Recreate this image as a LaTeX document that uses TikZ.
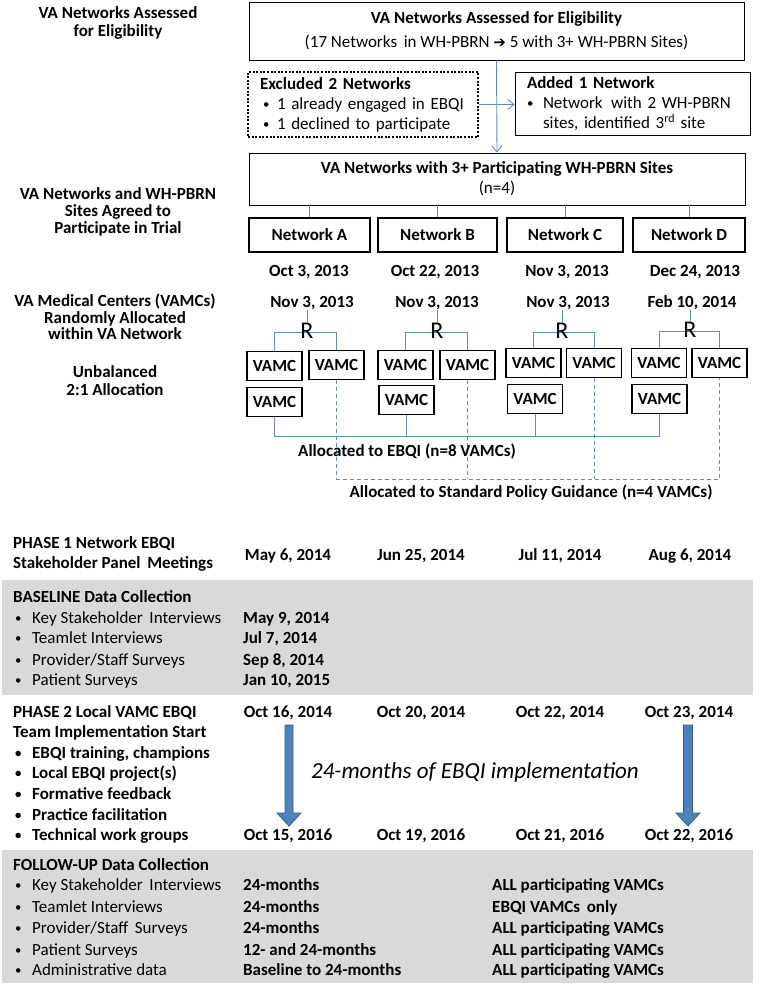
\documentclass[tikz,border=0pt]{standalone}
\usepackage{fontspec}
\setmainfont{Carlito}
\newfontfamily\djv{DejaVu Sans}
\usetikzlibrary{arrows.meta}
\definecolor{lineblue}{HTML}{5B8BC4}
\definecolor{bandgray}{HTML}{D9D9D9}
\definecolor{arrowfill}{HTML}{4F81BD}
\definecolor{arrowedge}{HTML}{385D8A}
\newcommand{\myfs}[2]{\fontsize{#1}{#2}\selectfont}
\newcommand{\smbul}{\raisebox{0.5pt}{\scalebox{0.75}{\textbullet}}}
\newcommand{\bul}[3]{\hspace*{#1}\makebox[#2][l]{\smbul}#3}
\begin{document}
\begin{tikzpicture}[x=1pt,y=-1pt,
  lbl/.style={font=\bfseries\myfs{17}{17.5}, align=center, inner sep=0},
  bx/.style={draw, line width=0.8pt, inner sep=0, align=center},
  dotbox/.style={draw, line width=2pt, dash pattern=on 2pt off 1.6pt, align=left, inner ysep=0},
  netbox/.style={draw, line width=2.4pt, font=\bfseries\myfs{17}{18}, minimum height=34pt, inner sep=0},
  vamc/.style={draw, line width=1.6pt, font=\bfseries\myfs{17}{18}, minimum width=55pt, minimum height=29pt, inner sep=0},
  conn/.style={draw=lineblue, line width=0.9pt},
  stdconn/.style={conn, dash pattern=on 4pt off 3pt},
  date/.style={font=\bfseries\myfs{17}{18}, inner sep=0},
  rr/.style={font=\myfs{24}{24}, inner sep=0},
  it/.style={anchor=base west, inner sep=0, font=\myfs{17}{18}},
  itb/.style={anchor=base west, inner sep=0, font=\bfseries\myfs{17}{18}},
  ldate/.style={anchor=base, inner sep=0, font=\bfseries\myfs{17}{18}},
  bigarrow/.style={fill=arrowfill, draw=arrowedge, line width=0.8pt}
]
\useasboundingbox (0,0) rectangle (760,992);
\fill[white] (0,0) rectangle (760,992);
\fill[bandgray] (2,580) rectangle (753,695);
\fill[bandgray] (2,850) rectangle (753,983);

% ---------- left labels ----------
\node[lbl, font=\bfseries\myfs{17}{18}] (l1) at (118,23) {VA Networks Assessed\\for Eligibility};
\node[lbl, font=\bfseries\myfs{17}{17}] (l2) at (118,212) {VA Networks and WH-PBRN\\Sites Agreed to\\Participate in Trial};
\node[lbl, font=\bfseries\myfs{17}{16.5}] (l3) at (115,317) {VA Medical Centers (VAMCs)\\Randomly Allocated\\within VA Network};
\node[lbl, font=\bfseries\myfs{17}{18}] (l4) at (115,381) {Unbalanced\\2:1 Allocation};

% ---------- top boxes ----------
\node[bx, minimum width=495pt, minimum height=58pt, font=\myfs{17}{24}] (top) at (496.5,31)
  {\textbf{VA Networks Assessed for Eligibility}\\(17 Networks\, in WH-PBRN {\djv\myfs{15}{24}➔} 5 with 3+ WH-PBRN Sites)};
\node[dotbox, text width=206pt, inner xsep=12pt, minimum height=65pt, font=\myfs{17}{20}] (excl) at (363,104.5)
  {\textbf{Excluded 2 Networks}\\\bul{3pt}{14pt}{1 already engaged in EBQI}\\\bul{3pt}{14pt}{1 declined to participate}};
\node[draw, line width=0.8pt, align=left, text width=211pt, inner xsep=12pt, inner ysep=0, minimum height=63pt, font=\myfs{17}{20}] (added) at (632.5,103.5)
  {\textbf{Added 1 Network}\\\bul{0pt}{16pt}{Network\, with 2 WH-PBRN}\\\hspace*{16pt}sites, identified 3\textsuperscript{rd} site};
\draw[conn, -{Straight Barb[length=6pt,width=10pt]}] (excl.east) -- (excl.east -| added.west);

\node[bx, minimum width=496pt, minimum height=52pt, font=\myfs{17}{20}] (box2) at (497,179)
  {\textbf{VA Networks with 3+ Participating WH-PBRN Sites}\\(n=4)};
\draw[conn, -{Straight Barb[length=6pt,width=10pt]}] (top.south) -- (box2.north);

% ---------- networks ----------
\node[netbox, minimum width=121pt] (netA) at (309.5,235) {Network A};
\node[netbox, minimum width=119pt] (netB) at (437.5,235) {Network B};
\node[netbox, minimum width=116pt] (netC) at (565,235) {Network C};
\node[netbox, minimum width=112pt] (netD) at (689,235) {Network D};
\foreach \n in {netA,netB,netC,netD}
  \draw[conn] (box2.south -| \n.north) -- (\n.north);

\node[date] (dA) at (309,272) {Oct 3, 2013};
\node[date] (dB) at (435,272) {Oct 22, 2013};
\node[date] (dC) at (567,272) {Nov 3, 2013};
\node[date] (dD) at (695,272) {Dec 24, 2013};

\node[date] (rA) at (312,303) {Nov 3, 2013};
\node[date] (rB) at (437,303) {Nov 3, 2013};
\node[date] (rC) at (568,303) {Nov 3, 2013};
\node[date] (rD) at (692,303) {Feb 10, 2014};

% ---------- VAMCs ----------
\node[vamc] (v11) at (274.5,366) {VAMC};
\node[vamc] (v12) at (336.5,365) {VAMC};
\node[vamc] (v13) at (274.5,402) {VAMC};
\node[vamc] (v21) at (405.5,365) {VAMC};
\node[vamc] (v22) at (467.5,365) {VAMC};
\node[vamc] (v23) at (406.5,400) {VAMC};
\node[vamc] (v31) at (533.5,363) {VAMC};
\node[vamc] (v32) at (594,363) {VAMC};
\node[vamc] (v33) at (535,399) {VAMC};
\node[vamc] (v41) at (659,363) {VAMC};
\node[vamc] (v42) at (719.5,363) {VAMC};
\node[vamc] (v43) at (659.5,399) {VAMC};

\coordinate (k1) at (0,332);
\coordinate (k4) at (0,331);
\draw[conn] (v11.north) |- (v12.north |- k1) -- (v12.north);
\draw[conn] (v21.north) |- (v22.north |- k1) -- (v22.north);
\draw[conn] (v31.north) |- (v32.north |- k1) -- (v32.north);
\draw[conn] (v41.north) |- (v42.north |- k4) -- (v42.north);

\node[rr] (R1) at (307,331) {R};
\node[rr] (R2) at (437,331) {R};
\node[rr] (R3) at (562,331) {R};
\node[rr] (R4) at (690,330) {R};
\draw[conn] (R1.north |- rA.south) -- (R1.north);
\draw[conn] (R2.north |- rB.south) -- (R2.north);
\draw[conn] (R3.north |- rC.south) -- (R3.north);
\draw[conn] (R4.north |- rD.south) -- (R4.north);

\coordinate (ky) at (0,436);
\draw[conn] (v13.south) |- (v43.south |- ky) -- (v43.south);
\draw[conn] (v23.south) -- (v23.south |- ky);
\draw[conn] (v33.south) -- (v33.south |- ky);

\coordinate (sy) at (0,479);
\draw[stdconn] (v12.south) |- (v42.south |- sy) -- (v42.south);
\draw[stdconn] (v22.south) -- (v22.south |- sy);
\draw[stdconn] (v32.south) -- (v32.south |- sy);

\node[date] (ebqi) at (407,451) {Allocated to EBQI (n=8 VAMCs)};
\node[date] (std) at (531,493) {Allocated to Standard Policy Guidance (n=4 VAMCs)};

% ---------- PHASE 1 ----------
\node[itb] (p1a) at (13,548) {PHASE 1 Network EBQI};
\node[itb] (p1b) at (13,568) {Stakeholder Panel\, Meetings};
\node[ldate] (p1d1) at (288,560) {May 6, 2014};
\node[ldate] (p1d2) at (421,560) {Jun 25, 2014};
\node[ldate] (p1d3) at (560,560) {Jul 11, 2014};
\node[ldate] (p1d4) at (690,560) {Aug 6, 2014};

% ---------- BASELINE ----------
\node[itb] (bT) at (13,602) {BASELINE Data Collection};
\node[it] (b1) at (13,623) {\bul{2pt}{17pt}{Key Stakeholder\, Interviews}};
\node[it] (b2) at (13,643) {\bul{2pt}{17pt}{Teamlet Interviews}};
\node[it] (b3) at (13,665) {\bul{2pt}{17pt}{Provider/Staff Surveys}};
\node[it] (b4) at (13,685) {\bul{2pt}{17pt}{Patient Surveys}};
\node[itb] (bd1) at (243,623) {May 9, 2014};
\node[itb] (bd2) at (243,643) {Jul 7, 2014};
\node[itb] (bd3) at (243,665) {Sep 8, 2014};
\node[itb] (bd4) at (243,685) {Jan 10, 2015};

% ---------- PHASE 2 ----------
\node[itb] (p2a) at (13,717) {PHASE 2 Local VAMC EBQI};
\node[itb] (p2b) at (13,737) {Team Implementation Start};
\node[itb] (p2c) at (13,758) {\bul{2pt}{17pt}{EBQI training, champions}};
\node[itb] (p2d) at (13,778) {\bul{2pt}{17pt}{Local EBQI project(s)}};
\node[itb] (p2e) at (13,799) {\bul{2pt}{17pt}{Formative feedback}};
\node[itb] (p2f) at (13,820) {\bul{2pt}{17pt}{Practice facilitation}};
\node[itb] (p2g) at (13,840) {\bul{2pt}{17pt}{Technical work groups}};
\node[ldate] (s1) at (288,717) {Oct 16, 2014};
\node[ldate] (s2) at (421,717) {Oct 20, 2014};
\node[ldate] (s3) at (560,717) {Oct 22, 2014};
\node[ldate] (s4) at (689,717) {Oct 23, 2014};
\node[ldate] (e1) at (288,840) {Oct 15, 2016};
\node[ldate] (e2) at (421,840) {Oct 19, 2016};
\node[ldate] (e3) at (560,840) {Oct 21, 2016};
\node[ldate] (e4) at (689,840) {Oct 22, 2016};
\path[bigarrow] (285,725) -- (293,725) -- (293,813) -- (301,813) -- (289,826) -- (277,813) -- (285,813) -- cycle;
\path[bigarrow] (683.5,725) -- (692.5,725) -- (692.5,813) -- (700,813) -- (688,826) -- (676,813) -- (683.5,813) -- cycle;
\node[inner sep=0, font=\itshape\myfs{23}{24}] (impl) at (475,772) {24-months of EBQI implementation};

% ---------- FOLLOW-UP ----------
\node[itb] (fT) at (13,870) {FOLLOW-UP Data Collection};
\node[it] (f1) at (13,890) {\bul{2pt}{17pt}{Key Stakeholder\, Interviews}};
\node[it] (f2) at (13,912) {\bul{2pt}{17pt}{Teamlet Interviews}};
\node[it] (f3) at (13,933) {\bul{2pt}{17pt}{Provider/Staff\, Surveys}};
\node[it] (f4) at (13,955) {\bul{2pt}{17pt}{Patient Surveys}};
\node[it] (f5) at (13,975) {\bul{2pt}{17pt}{Administrative data}};
\node[itb] (ft1) at (243,890) {24-months};
\node[itb] (ft2) at (243,912) {24-months};
\node[itb] (ft3) at (243,933) {24-months};
\node[itb] (ft4) at (243,955) {12- and 24-months};
\node[itb] (ft5) at (243,975) {Baseline to 24-months};
\node[itb] (fw1) at (492,890) {ALL participating VAMCs};
\node[itb] (fw2) at (492,912) {EBQI VAMCs\, only};
\node[itb] (fw3) at (492,933) {ALL participating VAMCs};
\node[itb] (fw4) at (492,955) {ALL participating VAMCs};
\node[itb] (fw5) at (492,975) {ALL participating VAMCs};
\end{tikzpicture}
\end{document}
